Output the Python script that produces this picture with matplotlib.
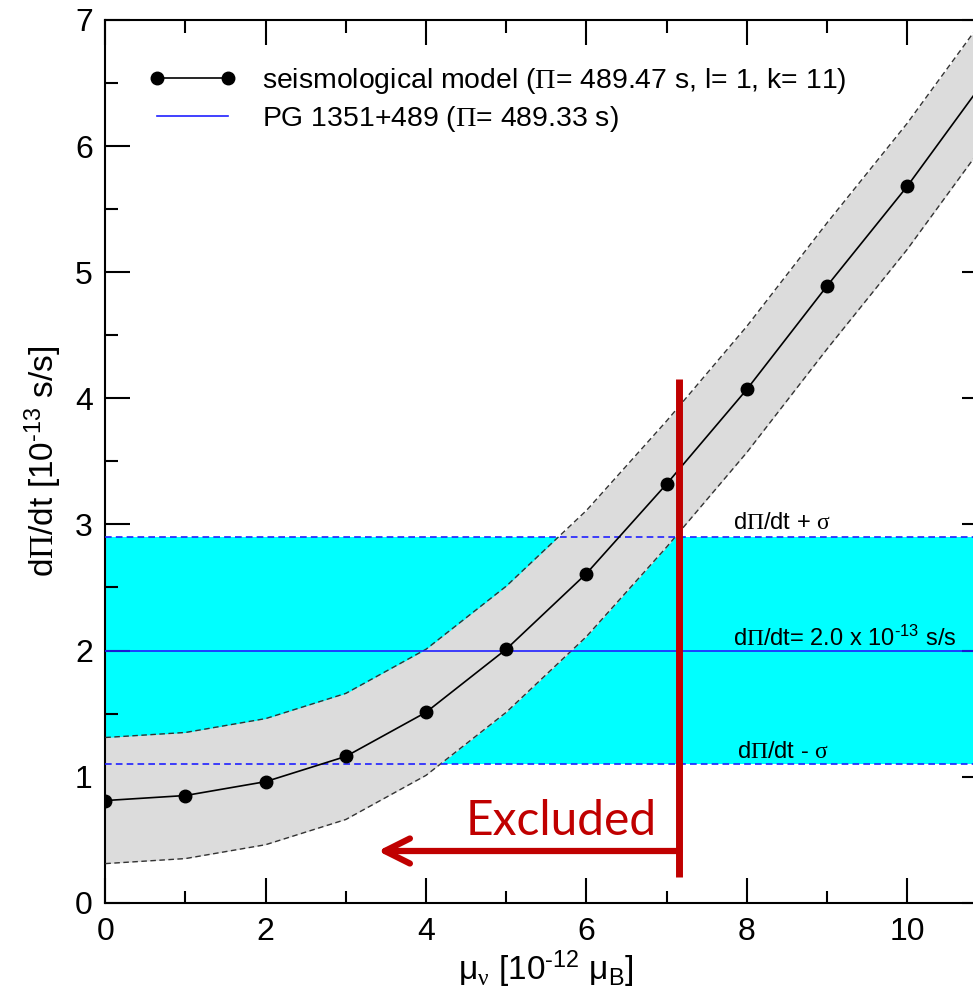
import numpy as np
import matplotlib
matplotlib.use('Agg')
import matplotlib.pyplot as plt

# seismological model, dPi/dt vs neutrino magnetic moment
mu = [0, 1, 2, 3, 4, 5, 6, 7, 8, 9, 10, 11]
dpdt = [0.81, 0.85, 0.96, 1.16, 1.51, 2.01, 2.61, 3.32, 4.07, 4.89, 5.68, 6.55]
dpdtUpper = [1.31, 1.35, 1.46, 1.66, 2.01, 2.51, 3.11, 3.82, 4.57, 5.39, 6.18, 7.05]
dpdtLower = [0.31, 0.35, 0.46, 0.66, 1.01, 1.51, 2.11, 2.82, 3.57, 4.39, 5.18, 6.05]

# observed value for PG 1351+489
obsValue = 2.0
obsMinus = 1.1
obsPlus = 2.9

# bound
muLimit = 7.16
limitTop = 4.15
limitBottom = 0.2
arrowY = 0.41
arrowTip = 3.40

plt.rcParams['font.family'] = ['Liberation Sans', 'DejaVu Sans']
plt.rcParams['mathtext.fontset'] = 'custom'
plt.rcParams['mathtext.rm'] = 'Liberation Sans'
plt.rcParams['mathtext.it'] = 'Liberation Sans:italic'
plt.rcParams['mathtext.cal'] = 'Liberation Serif'

PI = r'$\mathcal{\Pi}$'
SIG = r'$\mathcal{\sigma}$'


def SetupAxes(fig):
    ax = fig.add_axes([105.3 / 973, 104.3 / 1007, 882 / 973, 882.7 / 1007])
    ax.set_xlim(0, 11)
    ax.set_ylim(0, 7)
    ax.set_xticks([0, 2, 4, 6, 8, 10])
    ax.set_xticks(mu, minor=True)
    ax.set_yticks(range(8))
    ax.set_yticks(np.arange(0, 7.01, 0.5), minor=True)
    ax.tick_params(which='both', direction='in', top=True, right=True, width=1.5, labelsize=23)
    ax.tick_params(which='major', length=18)
    ax.tick_params(which='minor', length=9)
    ax.tick_params(axis='x', pad=10)
    ax.tick_params(axis='y', pad=9)
    for s in ax.spines.values():
        s.set_linewidth(1.5)
    return ax


def Main():
    fig = plt.figure(figsize=(9.73, 10.07), dpi=100)
    ax = SetupAxes(fig)

    ax.axhspan(obsMinus, obsPlus, color='#00FFFF', lw=0, zorder=1)
    ax.fill_between(mu, dpdtLower, dpdtUpper, color='#DCDCDC', lw=0, zorder=2)
    ax.plot(mu, dpdtUpper, color='#333333', lw=1, dashes=(4, 2.5), zorder=3)
    ax.plot(mu, dpdtLower, color='#333333', lw=1, dashes=(4, 2.5), zorder=3)

    ax.axhline(obsMinus, color='#2020FF', lw=1.2, dashes=(4, 2.5), zorder=3)
    ax.axhline(obsPlus, color='#2020FF', lw=1.2, dashes=(4, 2.5), zorder=3)
    ax.axhline(obsValue, color='#2020FF', lw=1.2, zorder=3,
               label='PG 1351+489 (' + PI + '= 489.33 s)')

    ax.plot(mu, dpdt, color='black', lw=1.2, marker='o', ms=9, zorder=4,
            label='seismological model (' + PI + '= 489.47 s, l= 1, k= 11)')

    ax.text(7.83, 2.96, 'd' + PI + '/dt + ' + SIG, fontsize=17, zorder=5)
    ax.text(7.83, 2.04, 'd' + PI + r'/dt= 2.0 x 10$^{\text{-13}}$ s/s', fontsize=17, zorder=5)
    ax.text(7.88, 1.15, 'd' + PI + '/dt - ' + SIG, fontsize=17, zorder=5)

    # exclusion bound
    red = '#C00000'
    ax.plot([muLimit, muLimit], [limitBottom, limitTop], color=red, lw=5, zorder=6,
            solid_capstyle='butt')
    ax.annotate('', xy=(arrowTip, arrowY), xytext=(muLimit, arrowY), zorder=6,
                arrowprops=dict(arrowstyle='->, head_length=0.9, head_width=0.45',
                                color=red, lw=4.5, mutation_scale=20,
                                shrinkA=0, shrinkB=0, capstyle='round'))
    ax.text(5.68, 0.54, 'Excluded', color=red, fontsize=34.5, family='Lato',
            ha='center', va='baseline', zorder=6)

    handles, labels = ax.get_legend_handles_labels()
    ax.legend(handles[::-1], labels[::-1], loc='upper left',
              bbox_to_anchor=(0.0495, 0.948), frameon=False, fontsize=20.4,
              handlelength=3.1, handletextpad=0.9, labelspacing=0.27,
              borderaxespad=0, borderpad=0, numpoints=2)

    ax.set_xlabel(r'$\mathrm{\mu}$' + r'$_{\mathcal{\nu}}$ [10$^{\text{-12}}$ $\mathrm{\mu}_{\mathrm{B}}$]',
                  fontsize=24)
    ax.set_ylabel('d' + PI + r'/dt [10$^{\text{-13}}$ s/s]', fontsize=24)
    ax.xaxis.set_label_coords(0.5, -0.052)
    ax.yaxis.set_label_coords(-0.047, 0.5)

    fig.savefig('out.png', dpi=100)


if __name__ == '__main__':
    Main()
